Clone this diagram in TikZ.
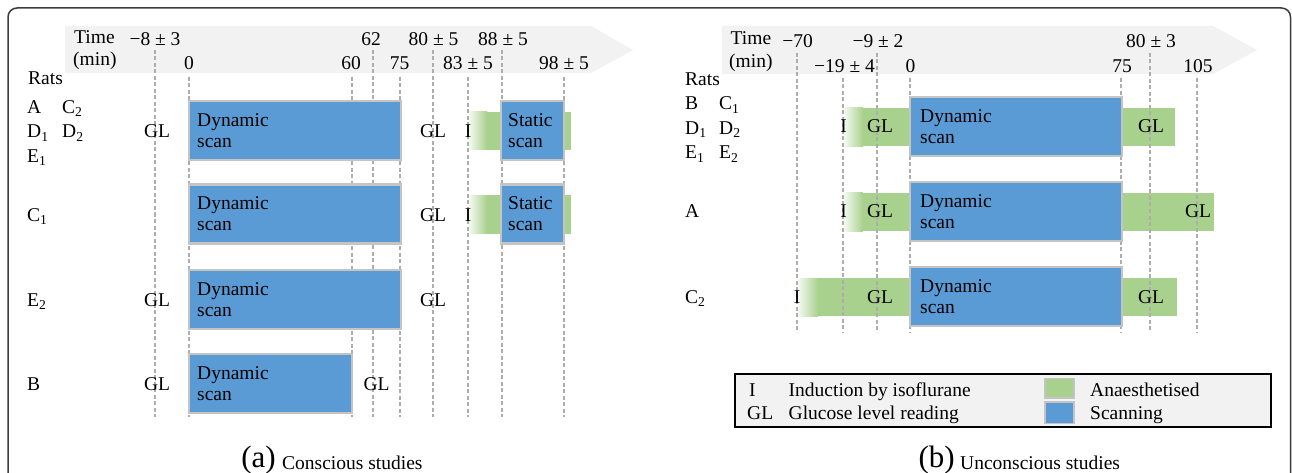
\documentclass[tikz,border=0pt]{standalone}
\usepackage{fontspec}
\setmainfont{Liberation Serif}
\definecolor{scanblue}{HTML}{5B9BD5}
\definecolor{anagreen}{HTML}{A9D18E}
\definecolor{boxedge}{HTML}{C4C4C4}
\definecolor{axisbg}{HTML}{F2F2F2}
\definecolor{dashgray}{HTML}{ADADAD}
\definecolor{framegray}{HTML}{3C3C3C}
\tikzset{
  txt/.style={font=\fontsize{19.5}{21}\selectfont, inner sep=0pt},
  lbl/.style={txt, anchor=base},
  lblw/.style={txt, anchor=base west},
  scanbox/.style={draw=boxedge, line width=2.2pt, fill=scanblue},
  boxtext/.style={txt, align=left, anchor=west},
  dashline/.style={draw=dashgray, line width=1.3pt, dash pattern=on 4pt off 2.5pt},
  anaband/.style={fill=anagreen},
  fadeband/.style={left color=anagreen!8, right color=anagreen},
  axisarrow/.style={fill=axisbg},
  legbox/.style={draw=black, line width=1.8pt, fill=axisbg},
  swatch/.style={draw=boxedge, line width=1.8pt},
  frameline/.style={draw=framegray, line width=1.5pt, rounded corners=9pt},
  capletter/.style={inner sep=0pt, anchor=base east, font=\fontsize{31}{33}\selectfont},
  captext/.style={txt, anchor=base west},
}
\newcommand{\sub}[1]{\textsubscript{#1}}
\begin{document}
\begin{tikzpicture}[x=1pt,y=-1pt]
\useasboundingbox (0,0) rectangle (1292,473);
\clip (0,0) rectangle (1292,473);
\fill[white] (0,0) rectangle (1292,473);
% frame
\draw[frameline] (8,530) -- (8,8) -- (1290.5,8) -- (1290.5,530);

% ================= panel (a) =================
\fill[axisarrow] (65,26) -- (591,26) -- (633,50) -- (591,73) -- (65,73) -- cycle;
% green bands
\shade[fadeband] (468,112) rectangle (487,150);
\fill[anaband] (486.5,112) rectangle (571,150);
\shade[fadeband] (468,195.5) rectangle (487,233.5);
\fill[anaband] (486.5,195.5) rectangle (571,233.5);
% dashed time lines
\foreach \xx in {155,373,433,502} {\draw[dashline] (\xx,50) -- (\xx,417);}
\foreach \xx in {189,352,400,468,564} {\draw[dashline] (\xx,77) -- (\xx,417);}
% axis labels
\node[lblw] (aTime) at (74,43.5) {Time};
\node[lblw] (aMin) at (73,66) {(min)};
\node[lbl] (am8) at (155,45.5) {−8 ± 3};
\node[lbl] (a62) at (371,45.5) {62};
\node[lbl] (a80) at (433.5,45.5) {80 ± 5};
\node[lbl] (a88) at (503,45.5) {88 ± 5};
\node[lbl] (a0) at (189,70) {0};
\node[lbl] (a60) at (351,70) {60};
\node[lbl] (a75) at (399.5,70) {75};
\node[lbl] (a83) at (468,70) {83 ± 5};
\node[lbl] (a98) at (564,70) {98 ± 5};
\node[lblw] (aRats) at (28,85) {Rats};
% row 1
\node[lblw] (aA) at (27,113.5) {A};
\node[lblw] (aC2) at (62,113.5) {C\sub{2}};
\node[lblw] (aD1) at (27,138) {D\sub{1}};
\node[lblw] (aD2) at (62,138) {D\sub{2}};
\node[lblw] (aE1) at (27,162.5) {E\sub{1}};
\draw[scanbox] (189,101) rectangle (401,160);
\node[boxtext] (a1dyn) at (197,130.5) {Dynamic\\scan};
\draw[scanbox] (501,101) rectangle (564,160);
\node[boxtext] (a1sta) at (508,130.5) {Static\\scan};
\node[lbl] (a1gl) at (157,137.5) {GL};
\node[lbl] (a1glb) at (433,137.5) {GL};
\node[lbl] (a1i) at (468,137.5) {I};
% row 2
\node[lblw] (aC1) at (27,221) {C\sub{1}};
\draw[scanbox] (189,184.5) rectangle (401,243.5);
\node[boxtext] (a2dyn) at (197,214) {Dynamic\\scan};
\draw[scanbox] (501,184.5) rectangle (564,243.5);
\node[boxtext] (a2sta) at (508,214) {Static\\scan};
\node[lbl] (a2glb) at (433,221) {GL};
\node[lbl] (a2i) at (468,221) {I};
% row 3
\node[lblw] (aE2) at (27,306) {E\sub{2}};
\draw[scanbox] (189,270) rectangle (401,329);
\node[boxtext] (a3dyn) at (197,299.5) {Dynamic\\scan};
\node[lbl] (a3gl) at (157,306) {GL};
\node[lbl] (a3glb) at (433,306) {GL};
% row 4
\node[lblw] (aB) at (27,390.5) {B};
\draw[scanbox] (189,354) rectangle (352,413);
\node[boxtext] (a4dyn) at (197,383.5) {Dynamic\\scan};
\node[lbl] (a4gl) at (157,390.5) {GL};
\node[lbl] (a4glb) at (376.5,390.5) {GL};
% caption
\node[capletter] (capa) at (276,467) {(a)};
\node[captext] (capatxt) at (282,469) {Conscious studies};

% ================= panel (b) =================
\fill[axisarrow] (722,26) -- (1213,26) -- (1257,50) -- (1213,74) -- (722,74) -- cycle;
% green bands
\shade[fadeband] (843,108) rectangle (863,146.5);
\fill[anaband] (862.5,108) rectangle (1175,146.5);
\shade[fadeband] (843,193) rectangle (863,231);
\fill[anaband] (862.5,193) rectangle (1214,231);
\shade[fadeband] (797,278) rectangle (818,316);
\fill[anaband] (817.5,278) rectangle (1177,316);
% dashed time lines
\foreach \xx in {797,877,1150} {\draw[dashline] (\xx,53) -- (\xx,332);}
\foreach \xx in {843,910,1121,1197} {\draw[dashline] (\xx,78) -- (\xx,332);}
% axis labels
\node[lblw] (bTime) at (730.5,45) {Time};
\node[lblw] (bMin) at (729,68) {(min)};
\node[lbl] (bm70) at (797.5,48) {−70};
\node[lbl] (bm9) at (878,48) {−9 ± 2};
\node[lbl] (b80) at (1151,48) {80 ± 3};
\node[lbl] (bm19) at (844.5,73) {−19 ± 4};
\node[lbl] (b0) at (910.5,73) {0};
\node[lbl] (b75) at (1122,73) {75};
\node[lbl] (b105) at (1198,73) {105};
\node[lblw] (bRats) at (685,86) {Rats};
% row 1
\node[lblw] (bB) at (685,110) {B};
\node[lblw] (bC1) at (719,110) {C\sub{1}};
\node[lblw] (bD1) at (685,134.5) {D\sub{1}};
\node[lblw] (bD2) at (719,134.5) {D\sub{2}};
\node[lblw] (bE1) at (685,159) {E\sub{1}};
\node[lblw] (bE2) at (719,159) {E\sub{2}};
\draw[scanbox] (910,97) rectangle (1122,156);
\node[boxtext] (b1dyn) at (920,126.5) {Dynamic\\scan};
\node[lbl] (b1i) at (843.5,133) {I};
\node[lbl] (b1gl) at (880,133) {GL};
\node[lbl] (b1glb) at (1151,133) {GL};
% row 2
\node[lblw] (bA) at (685,218) {A};
\draw[scanbox] (910,182) rectangle (1122,241);
\node[boxtext] (b2dyn) at (920,211.5) {Dynamic\\scan};
\node[lbl] (b2i) at (843.5,218) {I};
\node[lbl] (b2gl) at (880,218) {GL};
\node[lbl] (b2glb) at (1198,218) {GL};
% row 3
\node[lblw] (bC2) at (685,303) {C\sub{2}};
\draw[scanbox] (910,267) rectangle (1122,326);
\node[boxtext] (b3dyn) at (920,296.5) {Dynamic\\scan};
\node[lbl] (b3i) at (797,303) {I};
\node[lbl] (b3gl) at (880,303) {GL};
\node[lbl] (b3glb) at (1151,303) {GL};
% legend
\draw[legbox] (735,374) rectangle (1271,427);
\node[lblw] (lgI) at (749,396.5) {I};
\node[lblw] (lgIt) at (788.5,396.5) {Induction by isoflurane};
\node[lblw] (lgGL) at (747,419.5) {GL};
\node[lblw] (lgGLt) at (788.5,419.5) {Glucose level reading};
\draw[swatch, fill=anagreen] (1045,378.5) rectangle (1074,398);
\draw[swatch, fill=scanblue] (1045,402) rectangle (1074,423.5);
\node[lblw] (lgAn) at (1090,396.5) {Anaesthetised};
\node[lblw] (lgSc) at (1090,419.5) {Scanning};
% caption
\node[capletter] (capb) at (955,467) {(b)};
\node[captext] (capbtxt) at (960,469) {Unconscious studies};
\end{tikzpicture}
\end{document}
